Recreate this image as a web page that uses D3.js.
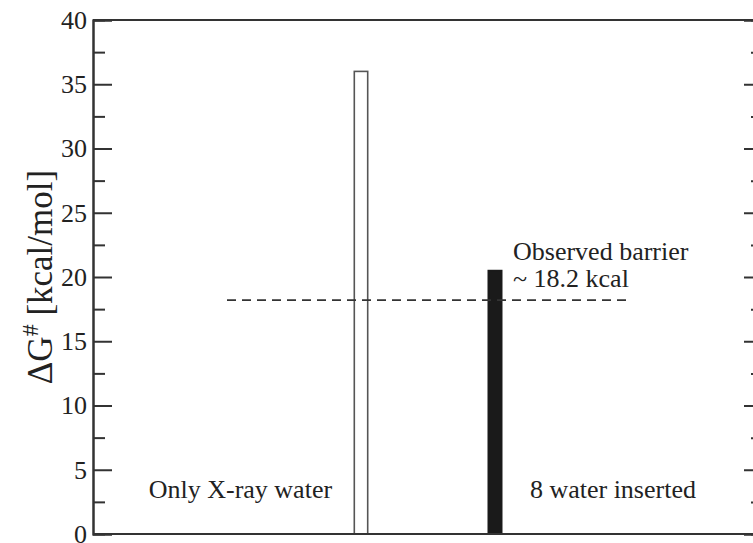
<!DOCTYPE html>
<html><head><meta charset="utf-8">
<script src="https://cdn.jsdelivr.net/npm/d3@7"></script>
<style>body{margin:0;background:#fff}svg{display:block}</style>
</head><body><svg id="c" width="753" height="543"></svg>
<script>
const categories = ["Only X-ray water", "8 water inserted"];
const barPositions = [2, 3];
const barValues = [36, 20.5];
const barFills = ["#fff", "#1a1a1a"];
const observedBarrier = 18.2;
const barrierSpan = [1, 4];
const majorTicks = [0, 5, 10, 15, 20, 25, 30, 35, 40];
const minorTicks = [2.5, 7.5, 12.5, 17.5, 22.5, 27.5, 32.5, 37.5];
const labelPositions = [1.1, 3.88];
const annotation = ["Observed barrier", "~ 18.2 kcal"];

const FONT = "Liberation Serif, Tinos, Times New Roman, serif";
const svg = d3.select("#c").attr("font-family", FONT);
const L = 93, R = 763, T = 20, B = 534;
const x = d3.scaleLinear().domain([0, 5]).range([L, R]);
const y = d3.scaleLinear().domain([0, 40]).range([B, T]);
const col = "#333";
const FS = 26;

// bars
const bw = x(0.1) - x(0);
svg.selectAll("rect.bar").data(barValues).join("rect")
  .attr("x", (d, i) => x(barPositions[i]) - bw / 2)
  .attr("y", d => y(d))
  .attr("width", bw)
  .attr("height", d => y(0) - y(d))
  .attr("fill", (d, i) => barFills[i])
  .attr("stroke", (d, i) => i === 0 ? "#555" : "#1a1a1a")
  .attr("stroke-width", 1.6);

// dashed barrier line
svg.append("line")
  .attr("x1", x(barrierSpan[0])).attr("x2", x(barrierSpan[1]))
  .attr("y1", y(observedBarrier)).attr("y2", y(observedBarrier))
  .attr("stroke", "#333").attr("stroke-width", 1.6)
  .attr("stroke-dasharray", "9,6");

// frame
svg.append("line").attr("x1", L).attr("x2", R).attr("y1", T).attr("y2", T).attr("stroke", col).attr("stroke-width", 2);
svg.append("line").attr("x1", L).attr("x2", R).attr("y1", B).attr("y2", B).attr("stroke", col).attr("stroke-width", 2);

function styleAxis(g) {
  g.attr("font-family", FONT).attr("font-size", FS);
  g.select(".domain").attr("stroke", col).attr("stroke-width", 2);
  g.selectAll(".tick line").attr("stroke", col).attr("stroke-width", 2);
  g.selectAll(".tick text").attr("fill", "#222");
}
// left axis
svg.append("g").attr("transform", `translate(${L},0)`)
  .call(d3.axisLeft(y).tickValues(majorTicks).tickSize(-19).tickPadding(6).tickFormat(d3.format("d")))
  .call(styleAxis);
svg.append("g").attr("transform", `translate(${L},0)`)
  .call(d3.axisLeft(y).tickValues(minorTicks).tickSize(-12).tickFormat(""))
  .call(styleAxis);
// right axis
svg.append("g").attr("transform", `translate(${R},0)`)
  .call(d3.axisRight(y).tickValues(majorTicks).tickSize(-19).tickFormat(""))
  .call(styleAxis);
svg.append("g").attr("transform", `translate(${R},0)`)
  .call(d3.axisRight(y).tickValues(minorTicks).tickSize(-12).tickFormat(""))
  .call(styleAxis);

// category labels
svg.selectAll("text.cat").data(categories).join("text")
  .attr("x", (d, i) => x(labelPositions[i]))
  .attr("y", 498)
  .attr("text-anchor", "middle")
  .attr("font-size", FS).attr("fill", "#222")
  .text(d => d);

// annotation
svg.append("text").attr("x", 513).attr("y", 260).attr("font-size", FS).attr("fill", "#222").text(annotation[0]);
svg.append("text").attr("x", 513).attr("y", 287).attr("font-size", FS).attr("fill", "#222").text(annotation[1]);

// y label
const yl = svg.append("text")
  .attr("transform", `translate(52,${(T + B) / 2}) rotate(-90)`)
  .attr("text-anchor", "middle")
  .attr("font-size", 35).attr("fill", "#222");
yl.append("tspan").text("ΔG");
yl.append("tspan").attr("font-size", 24).attr("dy", -14).text("#");
yl.append("tspan").attr("dy", 14).text(" [kcal/mol]");
</script></body></html>
